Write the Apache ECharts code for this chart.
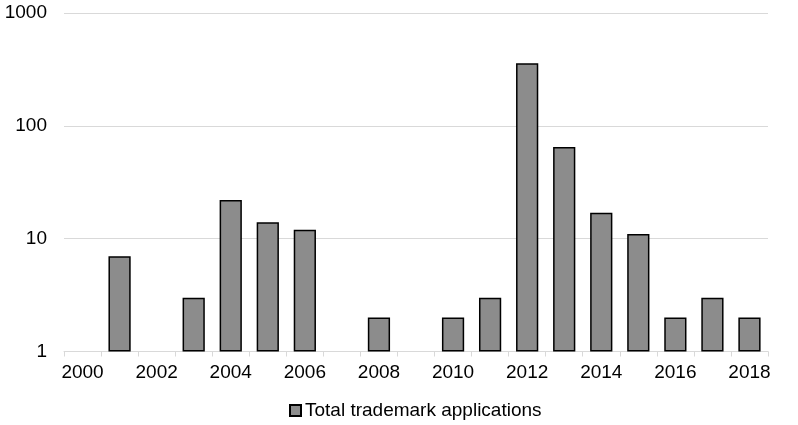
<!DOCTYPE html>
<html>
<head>
<meta charset="utf-8">
<script src="https://cdn.jsdelivr.net/npm/echarts@6/dist/echarts.min.js"></script>
<style>
  html, body { margin: 0; padding: 0; background: #ffffff; }
  #chart { width: 798px; height: 425px; }
</style>
</head>
<body>
<div id="chart"></div>
<script>
// Years on the category axis
const years = ['2000','2001','2002','2003','2004','2005','2006','2007','2008','2009',
               '2010','2011','2012','2013','2014','2015','2016','2017','2018'];
// Total trademark applications per year (null = none filed)
const applications = [null, 7, null, 3, 22, 14, 12, null, 2, null,
                      2, 3, 359, 65, 17, 11, 2, 3, 2];
const seriesName = 'Total trademark applications';

const chart = echarts.init(document.getElementById('chart'), null, { renderer: 'canvas' });
const font = 'Liberation Sans, Arial, sans-serif';
const fontSize = 19;

chart.setOption({
  animation: false,
  backgroundColor: '#ffffff',
  grid: { left: 64, right: 30, top: 13, bottom: 73.5, containLabel: false },
  legend: {
    data: [seriesName],
    bottom: 0,
    left: 284,
    itemWidth: 11,
    itemHeight: 11,
    itemGap: 4,
    icon: 'rect',
    textStyle: { fontFamily: font, fontSize: fontSize, color: '#000000', padding: [0, 0, 0, -1] }
  },
  xAxis: {
    type: 'category',
    data: years,
    boundaryGap: true,
    axisLine: { show: true, lineStyle: { color: '#d9d9d9', width: 1 } },
    axisTick: { show: true, interval: 0, length: 5, lineStyle: { color: '#d9d9d9' } },
    axisLabel: { interval: 1, margin: 12, fontFamily: font, fontSize: fontSize, color: '#000000' },
    splitLine: { show: false }
  },
  yAxis: {
    type: 'log',
    logBase: 10,
    min: 1,
    max: 1000,
    axisLine: { show: false },
    axisTick: { show: false },
    axisLabel: {
      margin: 17, fontFamily: font, fontSize: fontSize, color: '#000000',
      formatter: v => String(Math.round(v))
    },
    splitLine: { show: true, lineStyle: { color: '#d9d9d9', width: 1 } }
  },
  series: [{
    name: seriesName,
    type: 'bar',
    data: applications,
    barCategoryGap: '40%',
    itemStyle: { color: '#8c8c8c', borderColor: '#000000', borderWidth: 1.5 }
  }]
});
</script>
</body>
</html>
